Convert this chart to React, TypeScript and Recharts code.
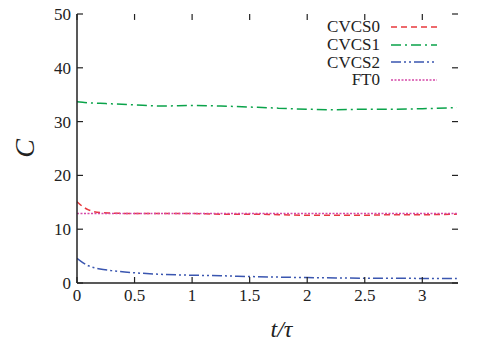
import { LineChart, Line, XAxis, YAxis, ReferenceLine } from 'recharts';

const tValues = [0, 0.05, 0.1, 0.2, 0.3, 0.5, 0.75, 1, 1.25, 1.5, 1.75, 2, 2.25, 2.5, 2.75, 3, 3.3];
const cvcs0 = [15.1, 14.2, 13.6, 13.1, 13.0, 12.9, 12.9, 12.9, 12.8, 12.8, 12.7, 12.6, 12.6, 12.6, 12.7, 12.7, 12.8];
const cvcs1 = [33.7, 33.6, 33.5, 33.4, 33.3, 33.1, 32.9, 33.0, 32.9, 32.7, 32.5, 32.3, 32.2, 32.3, 32.3, 32.4, 32.6];
const cvcs2 = [4.6, 3.8, 3.2, 2.6, 2.3, 1.9, 1.6, 1.45, 1.35, 1.2, 1.1, 1.0, 0.95, 0.9, 0.9, 0.85, 0.85];
const ft0 = [12.9, 12.9, 12.9, 12.9, 12.9, 12.9, 12.9, 12.9, 12.9, 12.9, 12.9, 12.9, 12.9, 12.9, 12.9, 12.9, 12.9];

const xTicks = [0, 0.5, 1, 1.5, 2, 2.5, 3];
const yTicks = [0, 10, 20, 30, 40, 50];
const xMax = 3.31;
const yMax = 50;

const data = tValues.map((t, i) => ({
  t,
  CVCS0: cvcs0[i],
  CVCS1: cvcs1[i],
  CVCS2: cvcs2[i],
  FT0: ft0[i],
}));

const series = [
  { key: 'CVCS0', color: '#e8383d', dash: '6 4' },
  { key: 'CVCS1', color: '#0aa34a', dash: '10 4 2 4' },
  { key: 'CVCS2', color: '#3a56b0', dash: '10 3 2 3 2 3' },
  { key: 'FT0', color: '#d548a8', dash: '2 1.5' },
];

const font = '"Liberation Serif", "DejaVu Serif", serif';
const ink = '#222';
const TL = 6; // inward tick length, px
const M = 6; // label gap

// mirror tick length in data units (about 6px)
const topTickLen = 1.1;
const rightTickLen = 0.052;

// ticks drawn inward; the axis position is recovered from the label anchor
const BottomTick = (p: any) => {
  const ay = p.y - M;
  return (
    <g>
      <line x1={p.x} x2={p.x} y1={ay} y2={ay - TL} stroke={ink} strokeWidth={1.2} />
      <text x={p.x} y={p.y} dy="0.71em" textAnchor="middle" fill={ink} fontSize={17} fontFamily={font}>
        {p.payload.value}
      </text>
    </g>
  );
};

const LeftTick = (p: any) => {
  const ax = p.x + M;
  return (
    <g>
      <line x1={ax} x2={ax + TL} y1={p.y} y2={p.y} stroke={ink} strokeWidth={1.2} />
      <text x={p.x} y={p.y} dy="0.35em" textAnchor="end" fill={ink} fontSize={17} fontFamily={font}>
        {p.payload.value}
      </text>
    </g>
  );
};

const App = () => {
  const dom: [number, number] = [0, xMax];
  return (
    <div style={{ position: 'absolute', left: 0, top: 0, width: 499, height: 343, background: '#fff' }}>
      <LineChart width={499} height={343} data={data} margin={{ top: 14, right: 41, left: 0, bottom: 0 }}>
        <XAxis
          xAxisId="b"
          dataKey="t"
          type="number"
          domain={dom}
          ticks={xTicks}
          allowDataOverflow
          height={60}
          tickLine={false}
          tickSize={0}
          tickMargin={M}
          axisLine={{ stroke: ink, strokeWidth: 1.5 }}
          tick={BottomTick}
          label={{ value: 't/τ', position: 'insideBottom', offset: 6, dx: 14, style: { fontFamily: font, fontSize: 24, fontStyle: 'italic', fill: ink } }}
        />
        <XAxis xAxisId="tm" orientation="top" dataKey="t" type="number" domain={dom} allowDataOverflow height={0} tickLine={false} tick={false} axisLine={{ stroke: ink, strokeWidth: 1.5 }} />
        <YAxis
          yAxisId="l"
          type="number"
          domain={[0, yMax]}
          ticks={yTicks}
          allowDataOverflow
          width={77}
          tickLine={false}
          tickSize={0}
          tickMargin={M}
          axisLine={{ stroke: ink, strokeWidth: 1.5 }}
          tick={LeftTick}
          label={{ value: 'C', angle: -90, position: 'insideLeft', offset: 24, style: { fontFamily: font, fontSize: 28, fontStyle: 'italic', fill: ink, textAnchor: 'middle' } }}
        />
        <YAxis yAxisId="rm" orientation="right" type="number" domain={[0, yMax]} allowDataOverflow width={0} tickLine={false} tick={false} axisLine={{ stroke: ink, strokeWidth: 1.5 }} />
        <Line xAxisId="tm" yAxisId="rm" dataKey="FT0" stroke="none" dot={false} isAnimationActive={false} />
        {xTicks.map((v) => (
          <ReferenceLine
            key={`tt${v}`}
            xAxisId="b"
            yAxisId="l"
            segment={[{ x: v, y: yMax }, { x: v, y: yMax - topTickLen }]}
            stroke={ink}
            strokeWidth={1.2}
          />
        ))}
        {yTicks.map((v) => (
          <ReferenceLine
            key={`rt${v}`}
            xAxisId="b"
            yAxisId="l"
            segment={[{ x: xMax, y: v }, { x: xMax - rightTickLen, y: v }]}
            stroke={ink}
            strokeWidth={1.2}
          />
        ))}
        {series.map((s) => (
          <Line
            key={s.key}
            xAxisId="b"
            yAxisId="l"
            type="monotone"
            dataKey={s.key}
            stroke={s.color}
            strokeWidth={1.5}
            strokeDasharray={s.dash}
            dot={false}
            isAnimationActive={false}
          />
        ))}
      </LineChart>
      <div style={{ position: 'absolute', top: 18, left: 280, width: 158, fontFamily: font, fontSize: 17, color: ink, lineHeight: '17.8px' }}>
        {series.map((s) => (
          <div key={s.key} style={{ display: 'flex', alignItems: 'center', height: 17.8, justifyContent: 'flex-end' }}>
            <span style={{ marginRight: 10 }}>{s.key}</span>
            <svg width={48} height={6}>
              <line x1={1} x2={47} y1={3} y2={3} stroke={s.color} strokeWidth={1.6} strokeDasharray={s.dash} />
            </svg>
          </div>
        ))}
      </div>
    </div>
  );
};

export default App;
